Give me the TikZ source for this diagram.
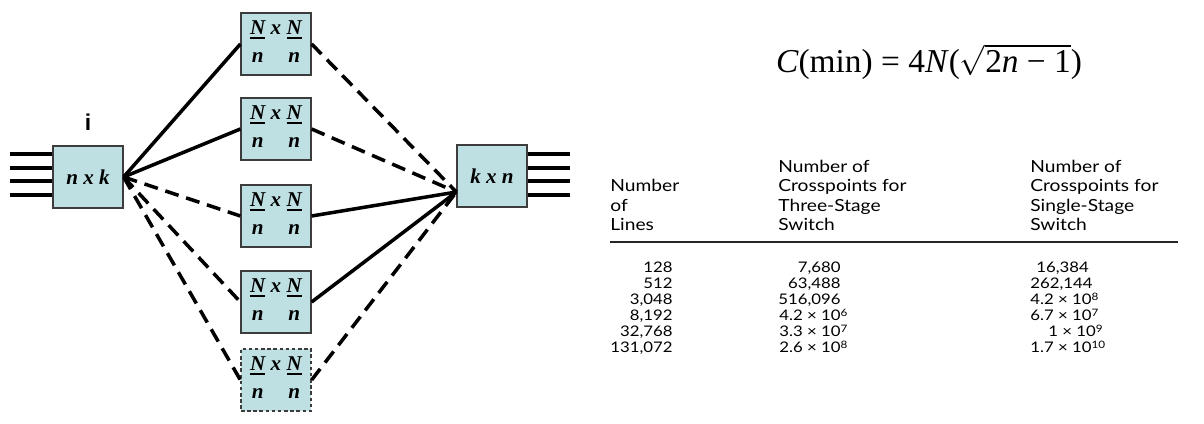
\documentclass[tikz,border=0pt]{standalone}
\usepackage{fontspec}
\setmainfont{Liberation Serif}
\setsansfont{Liberation Sans}
\newfontfamily\tabfont[FakeStretch=1.15]{Lato}
\usetikzlibrary{positioning}

\definecolor{boxfill}{RGB}{190,224,227}
\definecolor{boxline}{RGB}{60,60,60}

% thick bar under a letter, like a fraction line
\newcommand{\ubar}[1]{\setbox0\hbox{#1}\rlap{\rule[-2.4pt]{\wd0}{1.1pt}}\box0}
\newcommand{\NxN}{\raisebox{-2.5pt}{\begin{tabular}{@{}c@{\hspace{3pt}}c@{\hspace{3pt}}c@{}}\ubar{N}&x&\ubar{N}\\[2pt] n&&n\end{tabular}}}
\newcommand{\tms}{\ ×\ }

\tikzset{
    sbox/.style={draw=boxline, line width=0.7pt, fill=boxfill, minimum width=14mm,
        minimum height=12.4mm, inner sep=0pt, font=\fontsize{12}{14}\selectfont\bfseries\itshape},
    wire/.style={line width=2.3pt},
    link/.style={line width=2pt},
    dlink/.style={link, dash pattern=on 8pt off 4.5pt},
    tab/.style={font=\tabfont\fontsize{9.5}{11}\selectfont, inner sep=0pt},
    tabd/.style={font=\tabfont\fontsize{8.3}{10}\selectfont, inner sep=0pt},
}

\begin{document}
\begin{tikzpicture}[x=0.2mm, y=-0.2mm]
    \useasboundingbox (0,0) rectangle (1204,424);

    % Switch blocks
    \node[sbox] (nk) at (88,177) {n x k};
    \node[sbox] (kn) at (492,176) {k x n};
    \node[font=\sffamily\bfseries\fontsize{13}{15}\selectfont] (ilabel) at (88,122) {i};

    \foreach \i/\y in {1/44, 2/129, 3/216, 4/302} {
        \node[sbox] (m\i) at (276,\y) {\NxN};
    }
    \node[sbox, dash pattern=on 2pt off 1.5pt] (m5) at (276,380) {\NxN};

    % Lines in and out
    \foreach \y in {154, 168, 181, 195} {
        \draw[wire] (10,\y) -- (nk.west |- 0,\y);
        \draw[wire] (kn.east |- 0,\y) -- (570,\y);
    }

    % Links
    \coordinate (kin) at ([yshift=-3.2mm]kn.west);
    \draw[link] (nk.east) -- (m1.west);
    \draw[link] (nk.east) -- (m2.west);
    \draw[dlink] (nk.east) -- (m3.west);
    \draw[dlink] (nk.east) -- (m4.west);
    \draw[dlink] (nk.east) -- (m5.west);

    \draw[dlink] (m1.east) -- (kin);
    \draw[dlink] (m2.east) -- (kin);
    \draw[link] (m3.east) -- (kin);
    \draw[link] (m4.east) -- (kin);
    \draw[dlink] (m5.east) -- (kin);

    % Formula
    \node[font=\fontsize{19}{22}\selectfont] (cmin) at (929,62)
        {\textit{C}(min) = 4\textit{N}($\sqrt{\mbox{2\textit{n} − 1}}$)};

    % Table header
    \node[tab, anchor=base west] (hl1) at (610,192) {Number};
    \node[tab, anchor=base west] (hl2) at (610,211.5) {of};
    \node[tab, anchor=base west] (hl3) at (610,231) {Lines};
    \node[tab, anchor=base west] (hm1) at (778,172.5) {Number of};
    \node[tab, anchor=base west] (hm2) at (778,192) {Crosspoints for};
    \node[tab, anchor=base west] (hm3) at (778,211.5) {Three-Stage};
    \node[tab, anchor=base west] (hm4) at (778,231) {Switch};
    \node[tab, anchor=base west] (hr1) at (1030,172.5) {Number of};
    \node[tab, anchor=base west] (hr2) at (1030,192) {Crosspoints for};
    \node[tab, anchor=base west] (hr3) at (1030,211.5) {Single-Stage};
    \node[tab, anchor=base west] (hr4) at (1030,231) {Switch};
    \draw[line width=1.3pt, black!85] (610,242) -- (1178,242);

    % Table rows
    \node[tabd, anchor=base east] (l1) at (673,273) {128};
    \node[tabd, anchor=base east] (l2) at (673,289) {512};
    \node[tabd, anchor=base east] (l3) at (673,305) {3,048};
    \node[tabd, anchor=base east] (l4) at (673,321) {8,192};
    \node[tabd, anchor=base east] (l5) at (673,337) {32,768};
    \node[tabd, anchor=base east] (l6) at (673,353) {131,072};

    \node[tabd, anchor=base east] (t1) at (841,273) {7,680};
    \node[tabd, anchor=base east] (t2) at (841,289) {63,488};
    \node[tabd, anchor=base east] (t3) at (841,305) {516,096};
    \node[tabd, anchor=base west] (t4) at (779,321) {4.2\tms10\textsuperscript{6}};
    \node[tabd, anchor=base west] (t5) at (779,337) {3.3\tms10\textsuperscript{7}};
    \node[tabd, anchor=base west] (t6) at (779,353) {2.6\tms10\textsuperscript{8}};

    \node[tabd, anchor=base west] (s1) at (1036,273) {16,384};
    \node[tabd, anchor=base west] (s2) at (1030,289) {262,144};
    \node[tabd, anchor=base west] (s3) at (1030,305) {4.2\tms10\textsuperscript{8}};
    \node[tabd, anchor=base west] (s4) at (1030,321) {6.7\tms10\textsuperscript{7}};
    \node[tabd, anchor=base west] (s5) at (1048,337) {1\tms10\textsuperscript{9}};
    \node[tabd, anchor=base west] (s6) at (1030,353) {1.7\tms10\textsuperscript{10}};
\end{tikzpicture}
\end{document}
